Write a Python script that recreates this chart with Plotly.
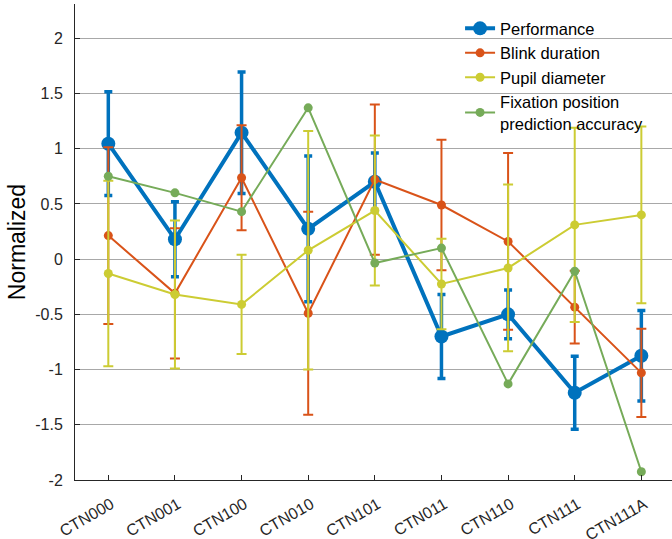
import plotly.graph_objects as go

categories = ["CTN000", "CTN001", "CTN100", "CTN010", "CTN101", "CTN011", "CTN110", "CTN111", "CTN111A"]

performance = [1.045, 0.18, 1.145, 0.274, 0.70, -0.70, -0.50, -1.21, -0.875]
performance_err = [0.47, 0.34, 0.55, 0.66, 0.26, 0.38, 0.22, 0.33, 0.41]

blink = [0.213, -0.31, 0.737, -0.49, 0.72, 0.49, 0.16, -0.435, -1.03]
blink_err = [0.80, 0.59, 0.475, 0.92, 0.68, 0.59, 0.80, 0.33, 0.40]

pupil = [-0.13, -0.32, -0.41, 0.08, 0.44, -0.225, -0.08, 0.31, 0.40]
pupil_err = [0.84, 0.67, 0.45, 1.08, 0.68, 0.41, 0.755, 0.88, 0.80]

fixation = [0.75, 0.60, 0.43, 1.37, -0.035, 0.10, -1.13, -0.11, -1.925]

BLUE = "#0072BD"
ORANGE = "#D95319"
YELLOW = "rgb(204,204,51)"
GREEN = "rgb(118,171,89)"

x = list(range(len(categories)))

fig = go.Figure()
fig.add_trace(go.Scatter(
    x=x, y=performance, name="Performance", mode="lines+markers",
    line=dict(color=BLUE, width=4), marker=dict(color=BLUE, size=14),
    error_y=dict(type="data", array=performance_err, visible=True, color=BLUE, thickness=3.5, width=4),
))
fig.add_trace(go.Scatter(
    x=x, y=blink, name="Blink duration", mode="lines+markers",
    line=dict(color=ORANGE, width=2), marker=dict(color=ORANGE, size=9),
    error_y=dict(type="data", array=blink_err, visible=True, color=ORANGE, thickness=2, width=5),
))
fig.add_trace(go.Scatter(
    x=x, y=pupil, name="Pupil diameter", mode="lines+markers",
    line=dict(color=YELLOW, width=2), marker=dict(color=YELLOW, size=9),
    error_y=dict(type="data", array=pupil_err, visible=True, color=YELLOW, thickness=2, width=5),
))
fig.add_trace(go.Scatter(
    x=x, y=fixation, name="Fixation position<br>prediction accuracy", mode="lines+markers",
    line=dict(color=GREEN, width=2), marker=dict(color=GREEN, size=9),
))

fig.update_layout(
    width=672, height=539,
    margin=dict(l=75, r=0, t=4, b=59),
    plot_bgcolor="white", paper_bgcolor="white",
    font=dict(family="Liberation Sans, Arial, sans-serif", color="#262626", size=16),
    showlegend=True,
    legend=dict(x=0.645, y=0.985, xanchor="left", yanchor="top",
                bgcolor="rgba(0,0,0,0)", font=dict(size=16.5, color="#000000"),
                tracegroupgap=0, itemwidth=30),
    xaxis=dict(
        range=[-0.5, 8.46], tickmode="array", tickvals=x, ticktext=categories,
        tickangle=-30, showgrid=False, zeroline=False, automargin=False,
        showline=True, linecolor="#262626", linewidth=1,
        ticks="inside", ticklen=5, tickcolor="#262626",
        ticklabelstandoff=8, ticklabelshift=3,
        tickfont=dict(size=16, color="#262626"),
    ),
    yaxis=dict(
        range=[-2, 2.31], tickmode="array", automargin=False,
        tickvals=[-2, -1.5, -1, -0.5, 0, 0.5, 1, 1.5, 2],
        ticktext=["-2", "-1.5", "-1", "-0.5", "0", "0.5", "1", "1.5", "2"],
        showgrid=True, gridcolor="#A8A8A8", gridwidth=1,
        zeroline=True, zerolinecolor="#A8A8A8", zerolinewidth=1,
        showline=True, linecolor="#262626", linewidth=1,
        ticks="inside", ticklen=5, tickcolor="#262626", ticklabelstandoff=8,
        tickfont=dict(size=16, color="#262626"),
        title=dict(text="Normalized", font=dict(size=23, color="#000000"), standoff=3),
    ),
)

fig.write_html("out.html", config={"displayModeBar": False},
               post_script="document.body.style.margin='0';")
